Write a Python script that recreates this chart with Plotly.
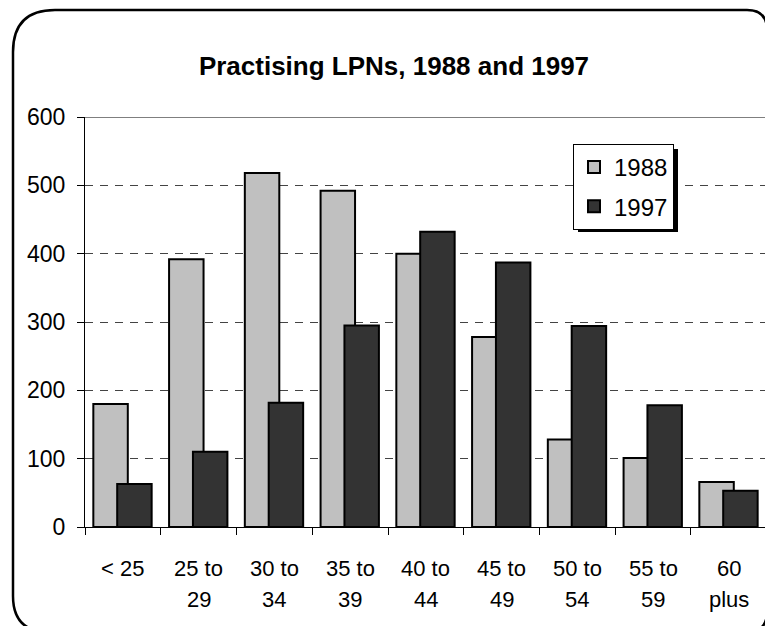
import plotly.graph_objects as go

# ---- data ----
categories = ["< 25", "25 to 29", "30 to 34", "35 to 39", "40 to 44",
              "45 to 49", "50 to 54", "55 to 59", "60 plus"]
label_line1 = ["< 25", "25 to", "30 to", "35 to", "40 to", "45 to", "50 to", "55 to", "60"]
label_line2 = ["", "29", "34", "39", "44", "49", "54", "59", "plus"]
values_1988 = [180, 392, 518, 492, 400, 278, 128, 101, 66]
values_1997 = [63, 110, 182, 295, 432, 387, 294, 178, 53]
series_names = ["1988", "1997"]
y_ticks = [0, 100, 200, 300, 400, 500, 600]

FONT = "Liberation Sans, Arial, sans-serif"

# pixel geometry helpers (plot area 85..765 x, 117..527 y)
L, R, T, B = 85, 765, 117, 527
W, H = R - L, B - T
def px(x):
    return (x - L) / W
def py(y):
    return (B - y) / H

fig = go.Figure()
fig.add_trace(go.Bar(
    x=categories, y=values_1988, name=series_names[0],
    marker=dict(color="#c0c0c0", line=dict(color="black", width=2)),
    width=0.455, offset=-0.39, legendgroup="a",
))
fig.add_trace(go.Bar(
    x=categories, y=values_1997, name=series_names[1],
    marker=dict(color="#333333", line=dict(color="black", width=2)),
    width=0.455, offset=-0.075, legendgroup="b",
))

# x labels as two-line annotations
for i, cat in enumerate(categories):
    fig.add_annotation(x=cat, xref="x", y=py(568), yref="paper", text=label_line1[i],
                       showarrow=False, yanchor="middle", xanchor="center",
                       font=dict(family=FONT, size=22, color="black"))
    if label_line2[i]:
        fig.add_annotation(x=cat, xref="x", y=py(599), yref="paper", text=label_line2[i],
                           showarrow=False, yanchor="middle", xanchor="center",
                           font=dict(family=FONT, size=22, color="black"))

# rounded frame
l, t, r, b = 13, 10, 767, 632
rl, rr = 42, 20
def P(x, y):
    return f"{px(x):.5f},{py(y):.5f}"
path = (f"M {P(l + rl, t)} L {P(r - rr, t)} Q {P(r, t)} {P(r, t + rr)} "
        f"L {P(r, b - rr)} Q {P(r, b)} {P(r - rr, b)} "
        f"L {P(l + 36, b)} Q {P(l, b)} {P(l, b - 36)} "
        f"L {P(l, t + rl)} Q {P(l, t)} {P(l + rl, t)} Z")
fig.add_shape(type="path", path=path, xref="paper", yref="paper",
              line=dict(color="black", width=2.5), layer="above")

# top solid line at 600
fig.add_shape(type="line", xref="paper", yref="y", x0=0, x1=1, y0=600, y1=600,
              line=dict(color="black", width=1), layer="above")

# legend shadow
fig.add_shape(type="rect", xref="paper", yref="paper",
              x0=px(578), x1=px(678), y0=py(149), y1=py(232),
              fillcolor="black", line=dict(width=0), layer="above")

fig.update_layout(
    width=765, height=626,
    margin=dict(l=L, r=765 - R, t=T, b=626 - B),
    paper_bgcolor="white", plot_bgcolor="white",
    barmode="overlay",
    title=dict(text="<b>Practising LPNs, 1988 and 1997</b>", x=px(394), xref="paper",
               xanchor="center", y=1 - 66 / 626, yanchor="middle",
               font=dict(family=FONT, size=26, color="black")),
    font=dict(family=FONT, size=22, color="black"),
    showlegend=True,
    legend=dict(x=px(573), y=py(144), xanchor="left", yanchor="top",
                bgcolor="white", bordercolor="black", borderwidth=1,
                font=dict(family=FONT, size=24, color="black"),
                tracegroupgap=5, itemwidth=30),
    xaxis=dict(type="category", range=[-0.5, 8.477], showticklabels=False,
               showline=True, linecolor="black", linewidth=1,
               ticks="outside", ticklen=7, tickcolor="black", tickson="boundaries",
               showgrid=False, zeroline=False, fixedrange=True),
    yaxis=dict(range=[0, 600], tickvals=y_ticks, showline=True, linecolor="black",
               linewidth=1, ticks="outside", ticklen=7, tickcolor="black",
               showgrid=True, gridcolor="#444444", gridwidth=1, griddash="8px,7px",
               zeroline=False, ticklabelstandoff=7,
               tickfont=dict(family=FONT, size=23, color="black")),
)

fig.write_html("out.html")
